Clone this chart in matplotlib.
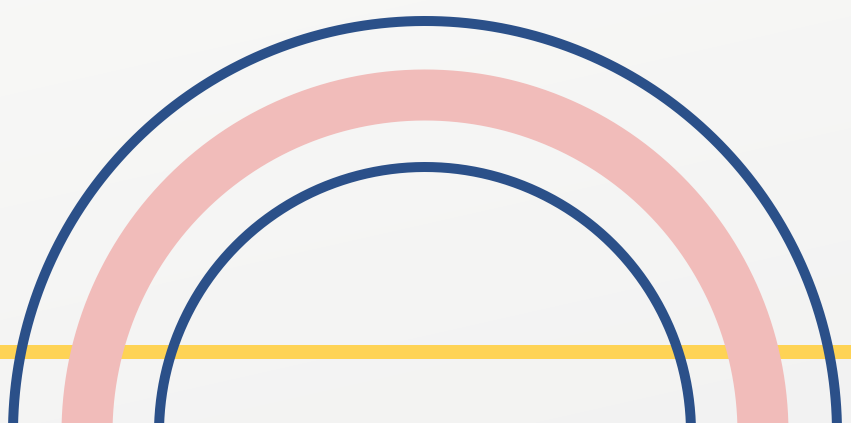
import numpy as np
import matplotlib
matplotlib.use("Agg")
import matplotlib.pyplot as plt

# Decorative shapes (in pixel units of the 851x423 canvas)
arc_names = ["outer", "middle", "inner"]
arc_radii = [412, 338, 266]
arc_colors = ["#2b5089", "#f1bcba", "#2b5089"]
arc_widths_px = [10, 51, 10]
center = (425, 433)
band_y = 352
band_width_px = 14
band_color = "#fed355"

W, H = 851, 423
fig = plt.figure(figsize=(W / 100, H / 100), dpi=100)
ax = fig.add_axes([0, 0, 1, 1])
ax.set_xlim(0, W)
ax.set_ylim(H, 0)
ax.axis("off")

# background soft gradient
yy, xx = np.mgrid[0:H, 0:W]
t = 0.55 * (yy / H) + 0.25 * (xx / W)
top = np.array([0.972, 0.972, 0.965])
bot = np.array([0.945, 0.945, 0.945])
img = top[None, None, :] * (1 - t[..., None]) + bot[None, None, :] * t[..., None]
ax.imshow(img, extent=[0, W, H, 0], zorder=0, aspect="auto")

px = 0.72  # points per pixel at 100 dpi
ax.plot([0, W], [band_y, band_y], color=band_color, lw=band_width_px * px,
        solid_capstyle="butt", zorder=1)

theta = np.linspace(np.pi * 0.9, np.pi * 0.1, 100)
theta = np.linspace(0, np.pi, 600)
for r, c, w in zip(arc_radii, arc_colors, arc_widths_px):
    x = center[0] + r * np.cos(theta)
    y = center[1] - r * np.sin(theta)
    ax.plot(x, y, color=c, lw=w * px, solid_capstyle="butt", zorder=2)

fig.savefig("out.png", dpi=100)
